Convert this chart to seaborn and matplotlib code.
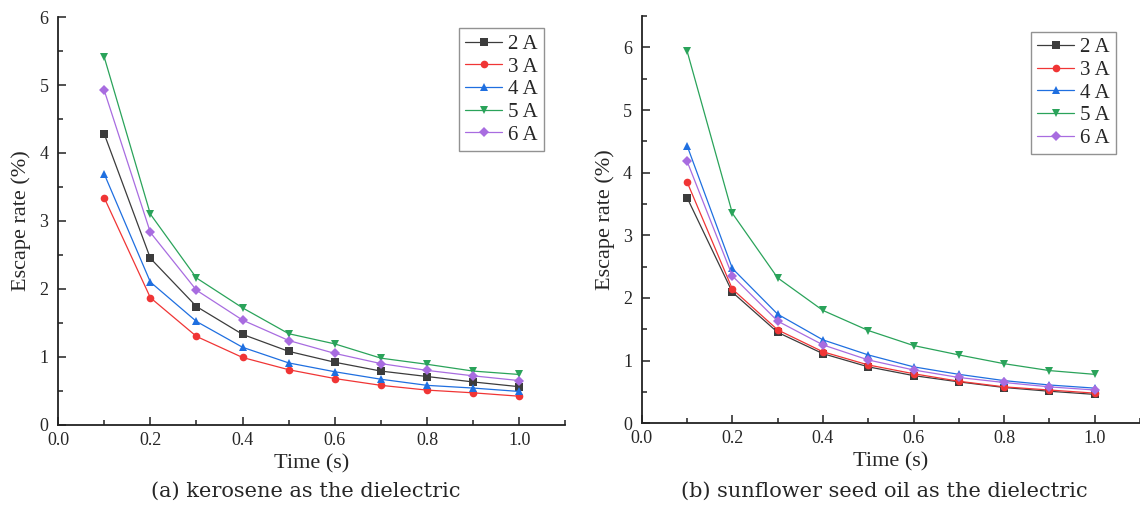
import matplotlib.pyplot as plt
import seaborn as sns
import pandas as pd
from matplotlib.ticker import MultipleLocator

# 시간 (s)
time = [0.1, 0.2, 0.3, 0.4, 0.5, 0.6, 0.7, 0.8, 0.9, 1.0]
currents = ['2 A', '3 A', '4 A', '5 A', '6 A']

# (a) kerosene
kero_2a = [4.28, 2.45, 1.74, 1.33, 1.08, 0.92, 0.79, 0.71, 0.63, 0.56]
kero_3a = [3.34, 1.87, 1.30, 0.99, 0.81, 0.68, 0.58, 0.51, 0.47, 0.42]
kero_4a = [3.69, 2.10, 1.52, 1.14, 0.91, 0.78, 0.67, 0.58, 0.54, 0.49]
kero_5a = [5.41, 3.10, 2.16, 1.72, 1.34, 1.19, 0.98, 0.89, 0.79, 0.74]
kero_6a = [4.92, 2.83, 1.98, 1.54, 1.24, 1.05, 0.90, 0.80, 0.72, 0.65]

# (b) sunflower seed oil
sun_2a = [3.60, 2.09, 1.45, 1.11, 0.90, 0.76, 0.66, 0.57, 0.51, 0.46]
sun_3a = [3.85, 2.14, 1.49, 1.14, 0.93, 0.79, 0.67, 0.58, 0.53, 0.48]
sun_4a = [4.43, 2.47, 1.74, 1.33, 1.09, 0.90, 0.78, 0.68, 0.61, 0.56]
sun_5a = [5.94, 3.35, 2.32, 1.80, 1.48, 1.24, 1.09, 0.95, 0.84, 0.78]
sun_6a = [4.18, 2.35, 1.63, 1.25, 1.01, 0.85, 0.73, 0.65, 0.58, 0.53]

colors = ['#3c3c3c', '#f03535', '#1f6fe0', '#2aa35a', '#a86ce0']
markers = ['s', 'o', '^', 'v', 'D']


def make_df(series):
    rows = []
    for cur, vals in zip(currents, series):
        for t, v in zip(time, vals):
            rows.append({'time': t, 'rate': v, 'current': cur})
    return pd.DataFrame(rows)


sns.set_style('ticks')
plt.rcParams['font.family'] = ['Liberation Serif', 'DejaVu Serif']

fig = plt.figure(figsize=(11.4, 5.18), dpi=100)
ax1 = fig.add_axes([0.051, 0.180, 0.445, 0.787])
ax2 = fig.add_axes([0.563, 0.183, 0.437, 0.786])

panels = [
    (ax1, make_df([kero_2a, kero_3a, kero_4a, kero_5a, kero_6a]), 6, (0.957, 0.973)),
    (ax2, make_df([sun_2a, sun_3a, sun_4a, sun_5a, sun_6a]), 6.5, (0.951, 0.962)),
]

for ax, df, ymax, lpos in panels:
    sns.lineplot(data=df, x='time', y='rate', hue='current', style='current',
                 palette=colors, markers=markers, dashes=False,
                 linewidth=0.9, markersize=5.5, markeredgewidth=0, ax=ax)
    ax.set_xlim(0, 1.1)
    ax.set_ylim(0, ymax)
    ax.xaxis.set_major_locator(MultipleLocator(0.2))
    ax.xaxis.set_minor_locator(MultipleLocator(0.1))
    ax.yaxis.set_major_locator(MultipleLocator(1))
    ax.yaxis.set_minor_locator(MultipleLocator(0.5))
    ax.set_xticks([0.0, 0.2, 0.4, 0.6, 0.8, 1.0])
    ax.set_xticklabels(['0.0', '0.2', '0.4', '0.6', '0.8', '1.0'])
    ax.tick_params(which='major', direction='in', length=6, width=1.1,
                   labelsize=13, color='#222222')
    ax.tick_params(which='minor', direction='in', length=3.5, width=1.1,
                   color='#222222')
    ax.tick_params(axis='x', which='major', pad=5)
    ax.tick_params(axis='y', which='major', pad=7)
    for s in ['left', 'bottom']:
        ax.spines[s].set_linewidth(1.3)
        ax.spines[s].set_color('#222222')
    sns.despine(ax=ax)
    ax.set_xlabel('Time (s)', fontsize=16, labelpad=4)
    ax.set_ylabel('Escape rate (%)', fontsize=16, labelpad=6)
    leg = ax.legend(loc='upper right', bbox_to_anchor=lpos, fontsize=15,
                    handlelength=1.8, handletextpad=0.25, labelspacing=0.15,
                    borderpad=0.3, borderaxespad=0, frameon=True, fancybox=False)
    leg.get_frame().set_edgecolor('#777777')
    leg.get_frame().set_linewidth(1.0)

fig.text(0.268, 0.04, '(a) kerosene as the dielectric', ha='center',
         fontsize=15, family=['DejaVu Serif'])
fig.text(0.776, 0.04, '(b) sunflower seed oil as the dielectric', ha='center',
         fontsize=15, family=['DejaVu Serif'])

fig.savefig('out.png', dpi=100)
